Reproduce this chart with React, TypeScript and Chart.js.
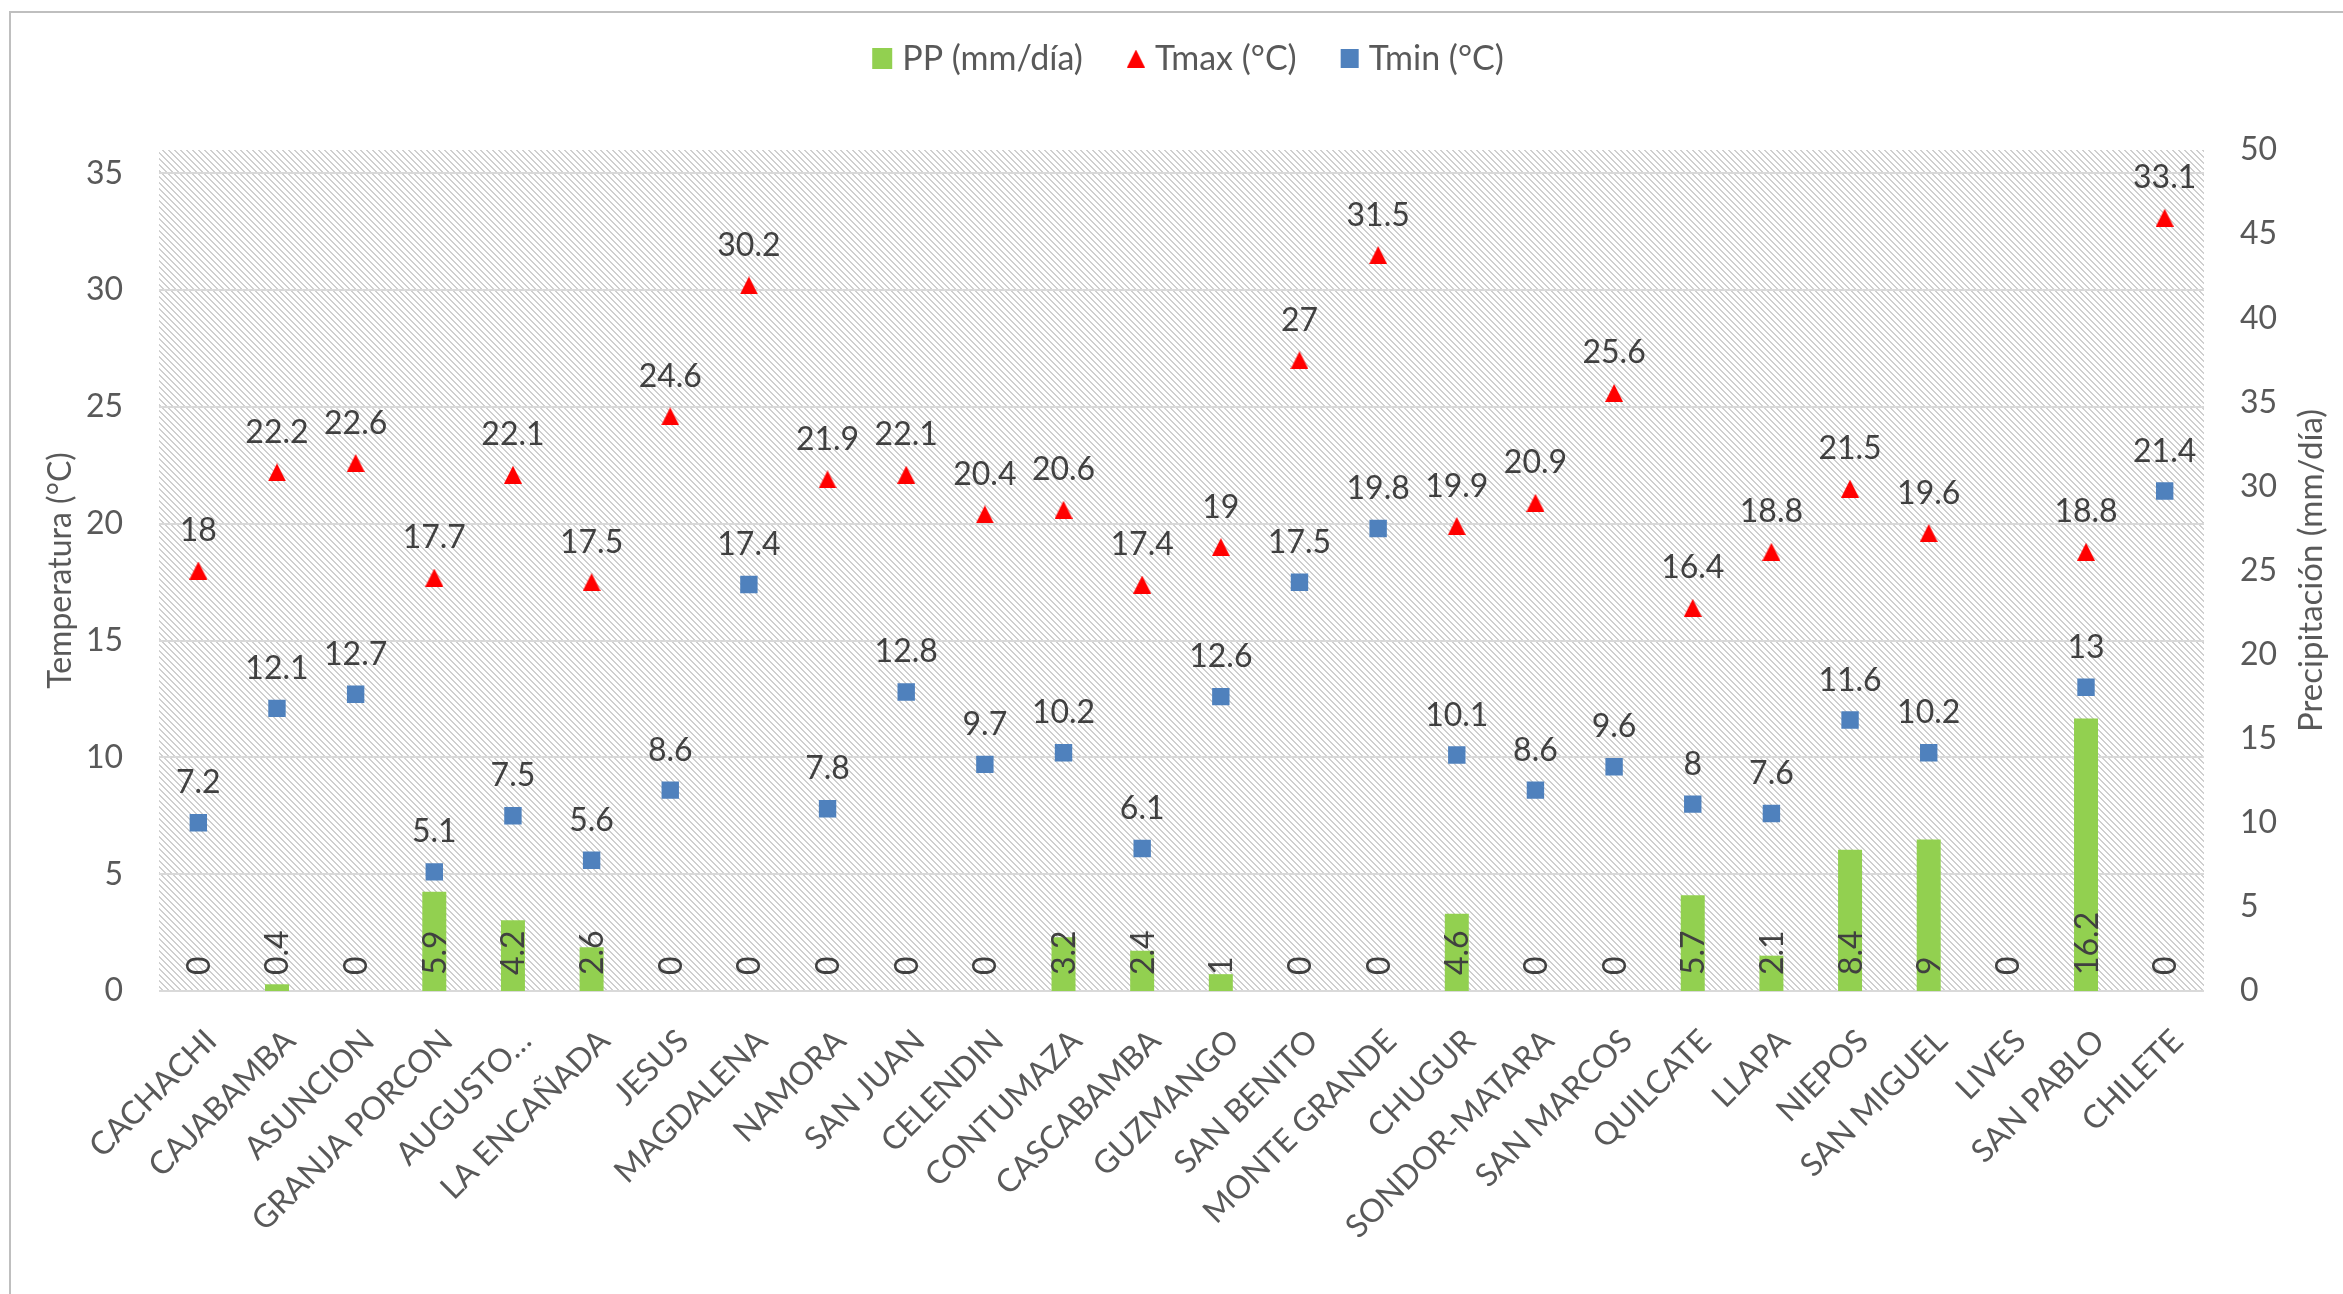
import React, { useEffect, useRef } from 'react';
import { Chart, registerables } from 'chart.js';

Chart.register(...registerables);

const stations = [
  'CACHACHI', 'CAJABAMBA', 'ASUNCION', 'GRANJA PORCON', 'AUGUSTO…', 'LA ENCAÑADA', 'JESUS',
  'MAGDALENA', 'NAMORA', 'SAN JUAN', 'CELENDIN', 'CONTUMAZA', 'CASCABAMBA', 'GUZMANGO',
  'SAN BENITO', 'MONTE GRANDE', 'CHUGUR', 'SONDOR-MATARA', 'SAN MARCOS', 'QUILCATE', 'LLAPA',
  'NIEPOS', 'SAN MIGUEL', 'LIVES', 'SAN PABLO', 'CHILETE',
];

const ppValues = [0, 0.4, 0, 5.9, 4.2, 2.6, 0, 0, 0, 0, 0, 3.2, 2.4, 1, 0, 0, 4.6, 0, 0, 5.7, 2.1, 8.4, 9, 0, 16.2, 0];

const tmaxValues = [18, 22.2, 22.6, 17.7, 22.1, 17.5, 24.6, 30.2, 21.9, 22.1, 20.4, 20.6, 17.4, 19, 27, 31.5, 19.9, 20.9, 25.6, 16.4, 18.8, 21.5, 19.6, null, 18.8, 33.1];

const tminValues = [7.2, 12.1, 12.7, 5.1, 7.5, 5.6, 8.6, 17.4, 7.8, 12.8, 9.7, 10.2, 6.1, 12.6, 17.5, 19.8, 10.1, 8.6, 9.6, 8, 7.6, 11.6, 10.2, null, 13, 21.4];

const leftTickValues = [0, 5, 10, 15, 20, 25, 30, 35];
const rightTickValues = [0, 5, 10, 15, 20, 25, 30, 35, 40, 45, 50];

const seriesNames = ['PP (mm/día)', 'Tmax (°C)', 'Tmin (°C)'];
const leftTitle = 'Temperatura (°C)';
const rightTitle = 'Precipitación (mm/día)';

const FONT = 'Lato';
const TEXT = '#595959';
const LABEL = '#404040';
const GREEN = '#92D050';
const RED = '#FF0000';
const BLUE = '#4F81BD';
const GRID = '#D9D9D9';

function makeTriangle(w: number, h: number, color: string) {
  const c = document.createElement('canvas');
  c.width = w;
  c.height = h;
  const g = c.getContext('2d')!;
  g.fillStyle = color;
  g.beginPath();
  g.moveTo(w / 2, 0);
  g.lineTo(w, h);
  g.lineTo(0, h);
  g.closePath();
  g.fill();
  return c;
}

function makeHatch(ctx: CanvasRenderingContext2D) {
  const c = document.createElement('canvas');
  c.width = 6;
  c.height = 6;
  const g = c.getContext('2d')!;
  g.fillStyle = '#ffffff';
  g.fillRect(0, 0, 6, 6);
  g.fillStyle = '#cfcfcf';
  for (let y = 0; y < 6; y++) {
    g.fillRect(y, y, 1, 1);
    g.fillRect((y + 1) % 6, y, 1, 1);
  }
  return ctx.createPattern(c, 'repeat');
}

export default function App() {
  const ref = useRef<HTMLCanvasElement | null>(null);

  useEffect(() => {
    const canvas = ref.current;
    if (!canvas) return;
    const tri = makeTriangle(18, 18, RED);

    const backgroundPlugin = {
      id: 'bg',
      beforeDraw(chart: any) {
        const { ctx, chartArea, width, height } = chart;
        ctx.save();
        ctx.fillStyle = '#ffffff';
        ctx.fillRect(0, 0, width, height);
        const pat = makeHatch(ctx);
        if (pat) {
          ctx.fillStyle = pat;
          ctx.fillRect(chartArea.left, chartArea.top, chartArea.right - chartArea.left, chartArea.bottom - chartArea.top);
        }
        ctx.strokeStyle = '#BFBFBF';
        ctx.lineWidth = 2;
        ctx.beginPath();
        ctx.moveTo(10, height);
        ctx.lineTo(10, 12);
        ctx.lineTo(width, 12);
        ctx.stroke();
        ctx.restore();
      },
    };

    const labelsPlugin = {
      id: 'valueLabels',
      afterDatasetsDraw(chart: any) {
        const ctx = chart.ctx;
        ctx.save();
        ctx.font = `32px ${FONT}`;
        ctx.fillStyle = LABEL;
        const barMeta = chart.getDatasetMeta(0);
        barMeta.data.forEach((bar: any, i: number) => {
          const v = chart.data.datasets[0].data[i];
          if (v == null) return;
          ctx.save();
          ctx.translate(bar.x, bar.base - 16);
          ctx.rotate(-Math.PI / 2);
          ctx.textAlign = 'left';
          ctx.textBaseline = 'alphabetic';
          ctx.fillText(String(v), 0, 11.5);
          ctx.restore();
        });
        [1, 2].forEach((di) => {
          const meta = chart.getDatasetMeta(di);
          meta.data.forEach((pt: any, i: number) => {
            const v = chart.data.datasets[di].data[i];
            if (v == null) return;
            ctx.textAlign = 'center';
            ctx.textBaseline = 'alphabetic';
            ctx.fillText(String(v), pt.x, pt.y - 29.5);
          });
        });
        ctx.restore();
      },
    };

    const legendPlugin = {
      id: 'customLegend',
      afterDraw(chart: any) {
        const ctx = chart.ctx;
        ctx.save();
        ctx.font = `34px ${FONT}`;
        ctx.fillStyle = TEXT;
        const markerW = [20, 18, 18];
        const gapMarker = 10;
        const gapItem = 44;
        const widths = seriesNames.map((n, i) => markerW[i] + gapMarker + ctx.measureText(n).width);
        const total = widths.reduce((a, b) => a + b, 0) + gapItem * (widths.length - 1);
        let x = 1188 - total / 2;
        const cy = 58.5;
        seriesNames.forEach((name, i) => {
          if (i === 0) {
            ctx.fillStyle = GREEN;
            ctx.fillRect(x, cy - 10.5, 20, 21);
          } else if (i === 1) {
            ctx.drawImage(tri, x, cy - 9, 18, 18);
          } else {
            ctx.fillStyle = BLUE;
            ctx.fillRect(x, cy - 9.5, 18, 19);
          }
          ctx.fillStyle = TEXT;
          ctx.textAlign = 'left';
          ctx.textBaseline = 'alphabetic';
          ctx.fillText(name, x + markerW[i] + gapMarker, 70);
          x += widths[i] + gapItem;
        });
        // right axis title, reading bottom to top
        const area = chart.chartArea;
        ctx.font = `33px ${FONT}`;
        ctx.translate(2311, (area.top + area.bottom) / 2);
        ctx.rotate(-Math.PI / 2);
        ctx.textAlign = 'center';
        ctx.textBaseline = 'alphabetic';
        ctx.fillText(rightTitle, 0, 11);
        ctx.restore();
      },
    };

    const tickFont = { family: FONT, size: 32 };

    const chart = new Chart(canvas, {
      type: 'bar',
      data: {
        labels: stations,
        datasets: [
          {
            type: 'bar',
            label: seriesNames[0],
            data: ppValues,
            yAxisID: 'y1',
            backgroundColor: GREEN,
            borderWidth: 0,
            barPercentage: 0.305,
            categoryPercentage: 1,
            order: 3,
          },
          {
            type: 'line',
            label: seriesNames[1],
            data: tmaxValues,
            yAxisID: 'y',
            showLine: false,
            pointStyle: tri,
            pointRadius: 9,
            pointBackgroundColor: RED,
            pointBorderWidth: 0,
            order: 1,
          },
          {
            type: 'line',
            label: seriesNames[2],
            data: tminValues,
            yAxisID: 'y',
            showLine: false,
            pointStyle: 'rect',
            pointRadius: 12.3,
            pointBackgroundColor: BLUE,
            pointBorderWidth: 0,
            order: 2,
          },
        ] as any,
      },
      options: {
        responsive: false,
        animation: false,
        devicePixelRatio: 1,
        layout: { padding: { left: 0, right: 0, top: 150, bottom: 0 } },
        plugins: {
          legend: { display: false },
          tooltip: { enabled: false },
        },
        scales: {
          x: {
            type: 'category',
            offset: true,
            grid: { display: false, drawTicks: false },
            border: { display: false },
            ticks: {
              autoSkip: false,
              maxRotation: 45,
              minRotation: 45,
              padding: 31,
              labelOffset: 13,
              color: TEXT,
              font: tickFont,
            },
            afterFit: (s: any) => {
              s.height = 303;
            },
          },
          y: {
            position: 'left',
            min: 0,
            max: 36,
            ticks: { stepSize: 5, padding: 36, color: TEXT, font: tickFont },
            grid: { color: GRID, lineWidth: 2, drawTicks: false },
            border: { display: false },
            title: {
              display: true,
              text: leftTitle,
              color: TEXT,
              font: tickFont,
              padding: { top: 41, bottom: 0 },
            },
            afterBuildTicks: (s: any) => {
              s.ticks = leftTickValues.map((v) => ({ value: v }));
            },
            afterFit: (s: any) => {
              s.width = 159;
            },
          },
          y1: {
            position: 'right',
            min: 0,
            max: 50,
            ticks: { stepSize: 5, padding: 36, color: TEXT, font: tickFont },
            grid: { display: false, drawTicks: false },
            border: { display: false },
            afterBuildTicks: (s: any) => {
              s.ticks = rightTickValues.map((v) => ({ value: v }));
            },
            afterFit: (s: any) => {
              s.width = 139;
            },
          },
        },
      } as any,
      plugins: [backgroundPlugin, labelsPlugin, legendPlugin],
    });

    return () => {
      chart.destroy();
    };
  }, []);

  return (
    <div style={{ position: 'fixed', left: 0, top: 0, width: 2343, height: 1294, background: '#ffffff' }}>
      <canvas ref={ref} width={2343} height={1294} style={{ display: 'block', width: 2343, height: 1294 }} />
    </div>
  );
}
